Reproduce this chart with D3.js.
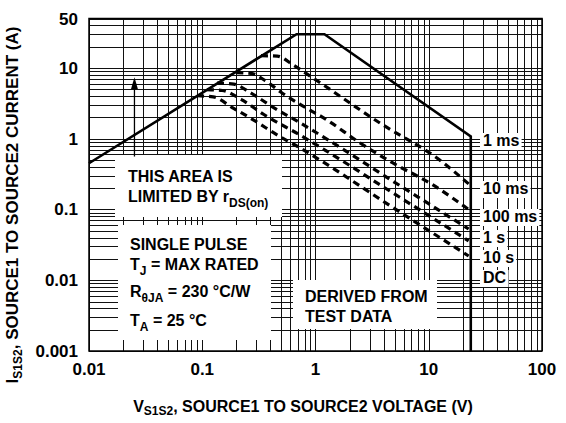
<!DOCTYPE html>
<html>
<head>
<meta charset="utf-8">
<script src="https://cdn.jsdelivr.net/npm/d3@7"></script>
<style>
html,body{margin:0;padding:0;background:#fff;}
svg{display:block;}
text{font-family:"Liberation Sans",Arial,Helvetica,sans-serif;font-weight:bold;fill:#000;}
</style>
</head>
<body>
<svg id="chart" width="566" height="423"></svg>
<script>
// ---- data ----
const xTicks = [0.01, 0.1, 1, 10, 100];
const xTickLabels = ["0.01", "0.1", "1", "10", "100"];
const yTicks = [0.001, 0.01, 0.1, 1, 10, 50];
const yTickLabels = ["0.001", "0.01", "0.1", "1", "10", "50"];

// solid SOA boundary (1 ms)
const boundaryV = [0.01, 0.68, 1.2, 23.5, 23.5];
const boundaryI = [0.45, 30, 30, 1.08, 0.001];

// dashed curves
const curveNames = ["10 ms", "100 ms", "1 s", "10 s", "DC"];
const v10ms = [0.33, 0.46, 0.63, 0.94, 3.9, 12.4, 22.5];
const i10ms = [14.9, 14.7, 11.1, 7.3, 1.58, 0.505, 0.23];
const v100ms = [0.2, 0.27, 0.36, 0.5, 0.72, 1.25, 2.45, 4.78, 10.8, 22.5];
const i100ms = [8.6, 8.4, 6.6, 4.5, 3.1, 1.86, 0.88, 0.458, 0.224, 0.1];
const v1s = [0.135, 0.19, 0.27, 0.42, 0.72, 5.5, 22.5];
const i1s = [6.1, 5.9, 4.4, 2.8, 1.7, 0.22, 0.053];
const v10s = [0.11, 0.15, 0.22, 0.35, 0.72, 5.5, 22.5];
const i10s = [4.95, 4.8, 3.6, 2.2, 1.14, 0.15, 0.036];
const vDC = [0.09, 0.125, 0.185, 0.3, 0.45, 0.72, 5.5, 22.5];
const iDC = [4.05, 3.9, 2.74, 1.74, 1.15, 0.75, 0.093, 0.022];

// right-hand curve labels
const curveLabels = ["1 ms", "10 ms", "100 ms", "1 s", "10 s", "DC"];

// ---- layout ----
const svg = d3.select("#chart");
const L = 89, R = 542, T = 18.5, B = 351;
const x = d3.scaleLog().domain([0.01, 100]).range([L, R]);
const y = d3.scaleLog().domain([0.001, 50]).range([B, T]);

// grid
const gridX = [];
for (let e = -2; e < 2; e++) for (let m = 1; m <= 9; m++) gridX.push(m * Math.pow(10, e));
gridX.push(100);
const gridY = [];
for (let e = -3; e < 2; e++) for (let m = 1; m <= 9; m++) { const v = m * Math.pow(10, e); if (v <= 50) gridY.push(v); }

const g = svg.append("g");
g.selectAll(".gx").data(gridX).join("line")
  .attr("x1", d => Math.round(x(d)) + 0.5).attr("x2", d => Math.round(x(d)) + 0.5)
  .attr("y1", T).attr("y2", B).attr("stroke", "#111").attr("stroke-width", 1);
g.selectAll(".gy").data(gridY).join("line")
  .attr("y1", d => Math.round(y(d)) + 0.5).attr("y2", d => Math.round(y(d)) + 0.5)
  .attr("x1", L).attr("x2", R).attr("stroke", "#111").attr("stroke-width", 1);

// white annotation boxes
const boxes = [[115, 155, 167, 62], [118, 225, 153, 115], [293, 280, 144, 49]];
svg.selectAll(".box").data(boxes).join("rect")
  .attr("x", d => d[0]).attr("y", d => d[1]).attr("width", d => d[2]).attr("height", d => d[3])
  .attr("fill", "#fff");

// frame
svg.append("rect").attr("x", L).attr("y", T).attr("width", R - L).attr("height", B - T)
  .attr("fill", "none").attr("stroke", "#000").attr("stroke-width", 1.5);

// curves
const line = d3.line().x(d => x(d[0])).y(d => y(d[1])).curve(d3.curveMonotoneX);
const zip = (a, b) => a.map((v, i) => [v, b[i]]);
const dashed = [zip(v10ms, i10ms), zip(v100ms, i100ms), zip(v1s, i1s), zip(v10s, i10s), zip(vDC, iDC)];
svg.selectAll(".dash").data(dashed).join("path")
  .attr("d", line).attr("fill", "none").attr("stroke", "#000")
  .attr("stroke-width", 3.2).attr("stroke-dasharray", "7,5");

const lineLin = d3.line().x(d => x(d[0])).y(d => y(d[1]));
svg.append("path").attr("d", lineLin(zip(boundaryV, boundaryI)))
  .attr("fill", "none").attr("stroke", "#000").attr("stroke-width", 2.6).attr("stroke-linejoin", "miter");

// arrow
const ax = x(0.0252);
svg.append("line").attr("x1", ax).attr("x2", ax).attr("y1", y(0.56)).attr("y2", y(6.2))
  .attr("stroke", "#000").attr("stroke-width", 1.3);
svg.append("path").attr("d", `M${ax},${y(7.4)} L${ax - 3.5},${y(7.4) + 12} L${ax + 3.5},${y(7.4) + 12} Z`).attr("fill", "#000");

// right labels with white background
const labelY = [146, 194, 222, 243, 263, 283];
const lg = svg.append("g");
curveLabels.forEach((t, i) => {
  const tx = lg.append("text").attr("x", 483).attr("y", labelY[i]).attr("font-size", 16).text(t);
  const bb = tx.node().getBBox();
  lg.insert("rect", "text").attr("x", bb.x - 3).attr("y", bb.y + 1).attr("width", bb.width + 5).attr("height", bb.height)
    .attr("fill", "#fff");
});

// ticks labels
svg.selectAll(".xt").data(xTicks).join("text")
  .attr("x", d => x(d)).attr("y", 375).attr("text-anchor", "middle").attr("font-size", 17)
  .text((d, i) => xTickLabels[i]);
svg.selectAll(".yt").data(yTicks).join("text")
  .attr("x", 78).attr("y", d => y(d) + 6).attr("text-anchor", "end").attr("font-size", 17)
  .text((d, i) => yTickLabels[i]);

// annotation text
function rich(xp, yp, parts) {
  const t = svg.append("text").attr("x", xp).attr("y", yp).attr("font-size", 16);
  parts.forEach(p => {
    const s = t.append("tspan").text(p[0]);
    if (p[1] === "sub") s.attr("font-size", 12).attr("dy", 5);
    if (p[1] === "back") s.attr("dy", -5);
  });
  return t;
}
rich(128, 182, [["THIS AREA IS"]]);
rich(128, 202, [["LIMITED BY r"], ["DS(on)", "sub"]]);
rich(130, 250, [["SINGLE PULSE"]]);
rich(130, 270, [["T"], ["J", "sub"], [" = MAX RATED", "back"]]);
rich(130, 297, [["R"], ["θJA", "sub"], [" = 230 °C/W", "back"]]);
rich(130, 326, [["T"], ["A", "sub"], [" = 25 °C", "back"]]);
rich(305, 302, [["DERIVED FROM"]]);
rich(305, 322, [["TEST DATA"]]);

// axis titles
const xt = svg.append("text").attr("x", 303).attr("y", 412).attr("text-anchor", "middle").attr("font-size", 16);
xt.append("tspan").text("V");
xt.append("tspan").text("S1S2").attr("font-size", 12).attr("dy", 3);
xt.append("tspan").text(", SOURCE1 TO SOURCE2 VOLTAGE (V)").attr("dy", -3);

const yt = svg.append("text").attr("transform", "translate(18,205) rotate(-90)").attr("text-anchor", "middle").attr("font-size", 17);
yt.append("tspan").text("I");
yt.append("tspan").text("S1S2").attr("font-size", 12).attr("dy", 4);
yt.append("tspan").text(", SOURCE1 TO SOURCE2 CURRENT (A)").attr("dy", -4);
</script>
</body>
</html>
